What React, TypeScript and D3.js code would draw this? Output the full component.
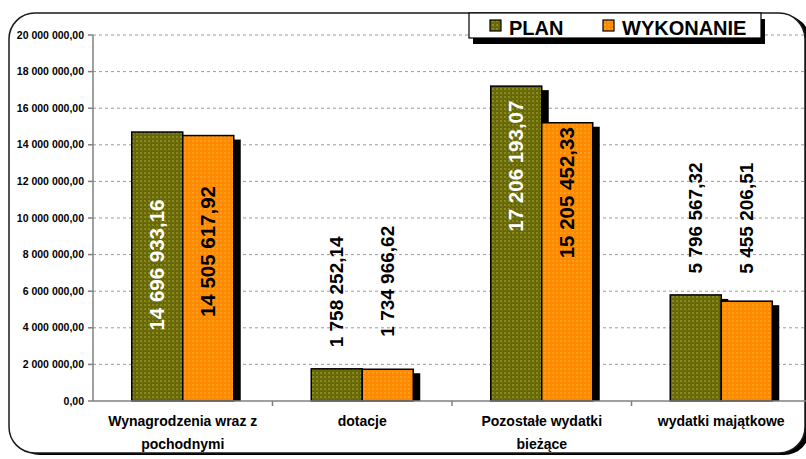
import * as d3 from "d3";

const categories = [
  ["Wynagrodzenia wraz z", "pochodnymi"],
  ["dotacje"],
  ["Pozostałe wydatki", "bieżące"],
  ["wydatki majątkowe"],
];
const series = ["PLAN", "WYKONANIE"];
const planValues = [14696933.16, 1758252.14, 17206193.07, 5796567.32];
const wykonanieValues = [14505617.92, 1734966.62, 15205452.33, 5455206.51];
const yTicks = [0, 2e6, 4e6, 6e6, 8e6, 10e6, 12e6, 14e6, 16e6, 18e6, 20e6];

// label centre relative to bar top (px), hand-tuned to the picture
const labelOffset = [
  [133, 116],
  [-77, -88],
  [80, 70],
  [-77, -83],
];

const fmt = (v: number) => {
  const [int, dec] = v.toFixed(2).split(".");
  return int.replace(/\B(?=(\d{3})+(?!\d))/g, " ") + "," + dec;
};

export default function App() {
  const width = 806;
  const height = 459;
  const plot = { left: 93, right: 811, top: 35, bottom: 401 };

  const x0 = d3
    .scaleBand<number>()
    .domain(d3.range(categories.length))
    .range([plot.left, plot.right]);
  const groupW = 102;
  const x1 = d3.scaleBand<number>().domain([0, 1]).range([0, groupW]);
  const y = d3.scaleLinear().domain([0, 20e6]).range([plot.bottom, plot.top]);

  const values = [planValues, wykonanieValues];
  const fills = ["url(#olive)", "url(#orange)"];
  const font = "Arial, 'Liberation Sans', sans-serif";

  return (
    <svg
      width={width}
      height={height}
      style={{ position: "absolute", left: 0, top: 0, fontFamily: font }}
    >
      <defs>
        <pattern id="olive" width={4} height={4} patternUnits="userSpaceOnUse">
          <rect width={4} height={4} fill="#66660a" />
          <rect x={0} y={0} width={2} height={2} fill="#8a8a1c" />
          <rect x={2} y={2} width={1} height={1} fill="#7a7a12" />
        </pattern>
        <pattern id="orange" width={4} height={4} patternUnits="userSpaceOnUse">
          <rect width={4} height={4} fill="#ff8a00" />
          <rect x={0} y={0} width={2} height={2} fill="#ff9d1e" />
        </pattern>
      </defs>

      {/* chart frame */}
      <rect x={14} y={15} width={796} height={440} rx={26} fill="#000" />
      <rect
        x={9}
        y={13}
        width={796}
        height={440}
        rx={26}
        fill="#fff"
        stroke="#1a1a1a"
        strokeWidth={1.5}
      />

      {/* grid */}
      {yTicks.slice(1).map((t) => (
        <line
          key={t}
          x1={plot.left}
          x2={width}
          y1={y(t)}
          y2={y(t)}
          stroke="#9a9a9a"
          strokeDasharray="3,3"
        />
      ))}

      {/* y axis */}
      <line x1={plot.left} x2={plot.left} y1={plot.top} y2={plot.bottom} stroke="#808080" strokeWidth={1.5} />
      {yTicks.map((t) => (
        <g key={t}>
          <line x1={plot.left - 5} x2={plot.left} y1={y(t)} y2={y(t)} stroke="#808080" strokeWidth={1.5} />
          <text
            x={84}
            y={y(t)}
            dy="0.35em"
            textAnchor="end"
            fontSize={10.5}
            fontWeight="bold"
          >
            {fmt(t)}
          </text>
        </g>
      ))}

      {/* bars */}
      {values.map((vals, s) => (
        <g key={s}>
          {vals.map((v, i) => {
            const bx = x0(i)! + (x0.bandwidth() - groupW) / 2 + x1(s)!;
            return (
              <rect
                key={i}
                x={bx + 7}
                y={y(v) + 4}
                width={x1.bandwidth()}
                height={plot.bottom - y(v) - 4}
                fill="#000"
              />
            );
          })}
          {vals.map((v, i) => {
            const bx = x0(i)! + (x0.bandwidth() - groupW) / 2 + x1(s)!;
            return (
              <rect
                key={i}
                x={bx}
                y={y(v)}
                width={x1.bandwidth()}
                height={plot.bottom - y(v)}
                fill={fills[s]}
                stroke="#000"
                strokeWidth={1.5}
              />
            );
          })}
        </g>
      ))}

      {/* x axis */}
      <line x1={plot.left} x2={width} y1={plot.bottom} y2={plot.bottom} stroke="#808080" strokeWidth={1.5} />
      {d3.range(1, categories.length).map((i) => (
        <line
          key={i}
          x1={x0(i)!}
          x2={x0(i)!}
          y1={plot.bottom}
          y2={plot.bottom + 5}
          stroke="#808080"
          strokeWidth={1.5}
        />
      ))}

      {/* value labels */}
      {values.map((vals, s) =>
        vals.map((v, i) => {
          const cx =
            x0(i)! + (x0.bandwidth() - groupW) / 2 + x1(s)! + x1.bandwidth() / 2 - 1;
          const off = labelOffset[i][s];
          const cy = y(v) + off;
          const inside = off > 0;
          return (
            <text
              key={`${s}-${i}`}
              transform={`translate(${cx},${cy}) rotate(-90)`}
              textAnchor="middle"
              dy="0.36em"
              fontSize={inside ? 20.5 : 19}
              fontWeight="bold"
              fill={inside && s === 0 ? "#fff" : "#000"}
            >
              {fmt(v)}
            </text>
          );
        })
      )}

      {/* category labels */}
      {categories.map((lines, i) => (
        <text
          key={i}
          x={x0(i)! + x0.bandwidth() / 2}
          y={426}
          textAnchor="middle"
          fontSize={14}
          fontWeight="bold"
        >
          {lines.map((l, k) => (
            <tspan key={k} x={x0(i)! + x0.bandwidth() / 2} dy={k === 0 ? 0 : 23}>
              {l}
            </tspan>
          ))}
        </text>
      ))}

      {/* legend */}
      <rect x={473} y={19} width={292} height={25} fill="#000" />
      <rect x={469} y={13} width={292} height={25} fill="#fff" stroke="#000" strokeWidth={1.2} />
      {series.map((name, s) => {
        const lx = s === 0 ? 490 : 603;
        return (
          <g key={name}>
            <rect x={lx} y={20} width={11} height={11} fill={fills[s]} stroke="#000" strokeWidth={1.2} />
            <text x={lx + 19} y={35} fontSize={20} fontWeight="bold">
              {name}
            </text>
          </g>
        );
      })}
    </svg>
  );
}
